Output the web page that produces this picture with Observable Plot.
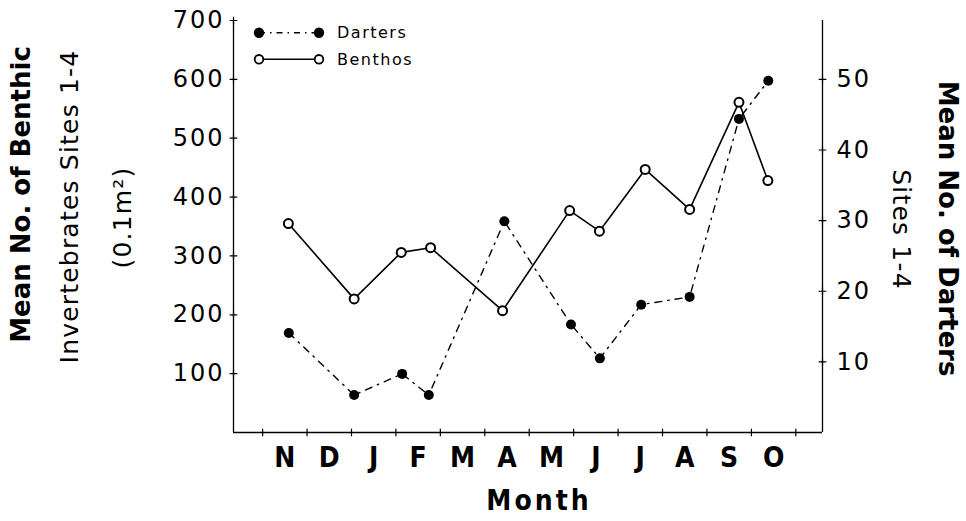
<!DOCTYPE html>
<html>
<head>
<meta charset="utf-8">
<script src="https://cdn.jsdelivr.net/npm/d3@7"></script>
<script src="https://cdn.jsdelivr.net/npm/@observablehq/plot@0.6"></script>
<style>
  body { margin: 0; background: #fff; }
  #wrap { position: relative; width: 966px; height: 521px; }
  #legend { position: absolute; left: 0; top: 0; pointer-events: none; }
  .chart g[aria-label="y-axis tick label"] text { letter-spacing: 2px; }
  .chart .title-normal text { letter-spacing: 1.2px; }
  .chart .month-title text { letter-spacing: 3px; }
</style>
</head>
<body>
<div id="wrap"></div>
<script>
// ---- data ----
const monthLabels = ["N", "D", "J", "F", "M", "A", "M", "J", "J", "A", "S", "O"];
const monthBoundaries = [0, 1, 2, 3, 4, 5, 6, 7, 8, 9, 10, 11, 12]; // months since 1 Nov
const benthosMonth = [0.58, 2.06, 3.12, 3.78, 5.40, 6.91, 7.58, 8.61, 9.61, 10.72, 11.37];
const benthosValue = [355, 227, 306, 314, 207, 377, 342, 447, 379, 561, 428];
const dartersMonth = [0.59, 2.06, 3.14, 3.74, 5.44, 6.94, 7.59, 8.52, 9.61, 10.72, 11.38];
const dartersValue = [14.1, 5.3, 8.3, 5.3, 29.9, 15.3, 10.5, 18.1, 19.2, 44.4, 49.8];
const leftTicks = [100, 200, 300, 400, 500, 600, 700];
const rightTicks = [10, 20, 30, 40, 50];
const darterFactor = 12; // right axis (darters) = left axis / 12
const xDomain = [-0.655, 12.6];
const yDomain = [0, 700];

const benthosData = benthosMonth.map((m, i) => ({m, v: benthosValue[i]}));
const dartersData = dartersMonth.map((m, i) => ({m, v: dartersValue[i]}));

const sans = "DejaVu Sans, Verdana, sans-serif";
const narrow = "'Liberation Sans Narrow', 'DejaVu Sans Condensed', 'Arial Narrow', 'Liberation Sans', sans-serif";
const centered = {textAnchor: "middle", lineAnchor: "middle"};

const chart = Plot.plot({
  width: 966,
  height: 521,
  marginLeft: 233,
  marginRight: 144,
  marginTop: 20,
  marginBottom: 89,
  className: "chart",
  style: {fontFamily: sans, color: "black", background: "white", overflow: "visible"},
  x: {domain: xDomain, axis: null},
  y: {domain: yDomain, axis: null},
  marks: [
    // axis lines
    Plot.ruleX(xDomain, {stroke: "black", strokeWidth: 1.3}),
    Plot.ruleY([yDomain[0]], {stroke: "black", strokeWidth: 1.3}),
    // crossing ticks
    Plot.dot(leftTicks, {y: d => d, frameAnchor: "left", symbol: "plus", r: 2.6, stroke: "black", strokeWidth: 1.2}),
    Plot.dot(rightTicks, {y: d => d * darterFactor, frameAnchor: "right", symbol: "plus", r: 2.6, stroke: "black", strokeWidth: 1.2}),
    Plot.dot(monthBoundaries, {x: d => d, frameAnchor: "bottom", symbol: "plus", r: 2.6, stroke: "black", strokeWidth: 1.2}),
    // tick labels
    Plot.axisY(leftTicks, {anchor: "left", label: null, tickSize: 0, tickPadding: 9, fontSize: 24, fontFamily: sans}),
    Plot.axisY(rightTicks.map(d => d * darterFactor), {anchor: "right", label: null, tickSize: 0, tickPadding: 14, fontSize: 24, fontFamily: sans, tickFormat: d => String(Math.round(d / darterFactor))}),
    Plot.text(monthLabels, {x: (d, i) => i + 0.5, frameAnchor: "bottom", ...centered, dy: 26, fontSize: 28, fontWeight: "bold", fontFamily: narrow}),
    // axis titles
    Plot.text(["Month"], {frameAnchor: "bottom", ...centered, dx: 11, dy: 69, fontSize: 28, fontWeight: "bold", fontFamily: narrow, className: "month-title"}),
    Plot.text(["Mean No. of Benthic"], {frameAnchor: "left", ...centered, rotate: -90, dx: -212, dy: -32, fontSize: 26, fontWeight: "bold", fontFamily: sans}),
    Plot.text(["Invertebrates Sites 1-4"], {frameAnchor: "left", ...centered, rotate: -90, dx: -164, dy: -20, fontSize: 25, fontFamily: sans, className: "title-normal"}),
    Plot.text(["(0.1m²)"], {frameAnchor: "left", ...centered, rotate: -90, dx: -111, dy: -9, fontSize: 25, fontFamily: sans, className: "title-normal"}),
    Plot.text(["Mean No. of Darters"], {frameAnchor: "right", ...centered, rotate: 90, dx: 125, dy: 2, fontSize: 26, fontWeight: "bold", fontFamily: sans}),
    Plot.text(["Sites 1-4"], {frameAnchor: "right", ...centered, rotate: 90, dx: 78, dy: 3, fontSize: 25, fontFamily: sans, className: "title-normal"}),
    // series
    Plot.line(dartersData, {x: "m", y: d => d.v * darterFactor, stroke: "black", strokeWidth: 1.4, strokeDasharray: "7,6,1.5,6"}),
    Plot.line(benthosData, {x: "m", y: "v", stroke: "black", strokeWidth: 1.6}),
    Plot.dot(dartersData, {x: "m", y: d => d.v * darterFactor, r: 5, fill: "black"}),
    Plot.dot(benthosData, {x: "m", y: "v", r: 4.5, fill: "white", stroke: "black", strokeWidth: 2})
  ]
});

const wrap = document.getElementById("wrap");
wrap.appendChild(chart);

// legend (inside the plot area, top-left)
const legendItems = [
  {label: "Darters", fill: "black", dash: "6,5,1.5,5"},
  {label: "Benthos", fill: "white", dash: null}
];
const lg = d3.select(wrap).append("svg")
  .attr("id", "legend").attr("width", 966).attr("height", 521);
const row = lg.selectAll("g").data(legendItems).join("g")
  .attr("transform", (d, i) => `translate(259, ${32.7 + i * 26.6})`);
row.append("line").attr("x1", 0).attr("x2", 60).attr("y1", 0).attr("y2", 0)
  .attr("stroke", "black").attr("stroke-width", 1.4)
  .attr("stroke-dasharray", d => d.dash);
row.selectAll("circle").data(d => [d, d]).join("circle")
  .attr("cx", (d, i) => i * 60).attr("cy", 0).attr("r", 4.3)
  .attr("fill", d => d.fill).attr("stroke", "black").attr("stroke-width", 1.8);
row.append("text").attr("x", 78).attr("y", 5.5)
  .attr("font-family", sans).attr("font-size", 16).attr("letter-spacing", "1.5px")
  .text(d => d.label);
</script>
</body>
</html>
